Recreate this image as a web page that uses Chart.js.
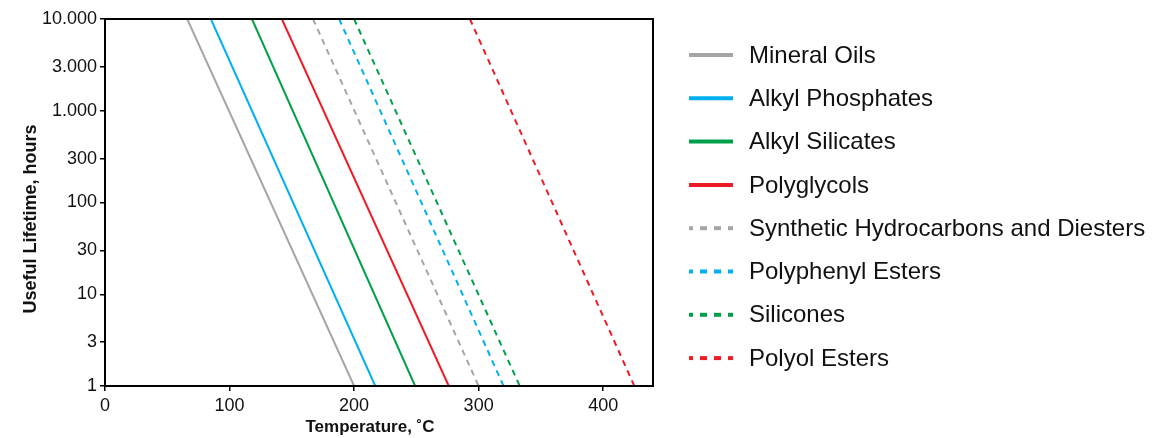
<!DOCTYPE html>
<html>
<head>
<meta charset="utf-8">
<title>Useful Lifetime vs Temperature</title>
<script src="https://cdn.jsdelivr.net/npm/chart.js@4.4.1/dist/chart.umd.min.js"></script>
<style>
    html, body { margin: 0; padding: 0; background: #fff; }
    #wrap { width: 1152px; height: 438px; }
</style>
</head>
<body>
<div id="wrap"><canvas id="lifetimeChart" width="1152" height="438"></canvas></div>
<script>
// Datos: temperatura (°C) a 10.000 h y a 1 h para cada lubricante
const seriesNames = [
    'Mineral Oils',
    'Alkyl Phosphates',
    'Alkyl Silicates',
    'Polyglycols',
    'Synthetic Hydrocarbons and Diesters',
    'Polyphenyl Esters',
    'Silicones',
    'Polyol Esters'
];
const tempAt10000h = [66, 85, 118, 142, 167, 188, 200, 293];
const tempAt1h = [200, 217, 249, 276, 300, 320, 333, 425];
const lifetimeBounds = [10000, 1];

const lifetimeTicks = [1, 3, 10, 30, 100, 300, 1000, 3000, 10000];
const temperatureTicks = [0, 100, 200, 300, 400];

const xTitle = 'Temperature, ˚C';
const yTitle = 'Useful Lifetime, hours';

// Estilos (separados de los datos)
const seriesColors = ['#a5a5a5', '#00b0f0', '#00a04b', '#ed1c24', '#a5a5a5', '#00b0f0', '#00a04b', '#ed1c24'];
const seriesDashed = [false, false, false, false, true, true, true, true];

const FONT = '"Liberation Sans", Arial, Helvetica, sans-serif';

// Formato con punto como separador de miles (10.000)
function formatNumber(num) {
    return String(num).replace(/\B(?=(\d{3})+(?!\d))/g, '.');
}

const datasets = seriesNames.map(function(name, i) {
    return {
        label: name,
        data: [
            { x: tempAt10000h[i], y: lifetimeBounds[0] },
            { x: tempAt1h[i], y: lifetimeBounds[1] }
        ],
        borderColor: seriesColors[i],
        backgroundColor: seriesColors[i],
        borderWidth: 2,
        borderDash: seriesDashed[i] ? [6, 5] : [],
        pointRadius: 0,
        fill: false,
        tension: 0
    };
});

// Marco negro alrededor del área del gráfico
const framePlugin = {
    id: 'frame',
    afterDatasetsDraw(chart) {
        const a = chart.chartArea;
        const ctx = chart.ctx;
        ctx.save();
        ctx.strokeStyle = '#000';
        ctx.lineWidth = 2;
        ctx.setLineDash([]);
        ctx.strokeRect(a.left, a.top, a.right - a.left, a.bottom - a.top);
        ctx.restore();
    }
};

// Títulos de los ejes (posición como en el original, algo descentrados)
const axisTitlesPlugin = {
    id: 'axisTitles',
    afterDraw(chart) {
        const ctx = chart.ctx;
        ctx.save();
        ctx.fillStyle = '#111';
        ctx.textAlign = 'center';
        ctx.textBaseline = 'middle';
        ctx.font = 'bold 17px ' + FONT;
        ctx.fillText(xTitle, 370, 427);
        ctx.font = 'bold 18px ' + FONT;
        ctx.translate(31, 219);
        ctx.rotate(-Math.PI / 2);
        ctx.fillText(yTitle, 0, 0);
        ctx.restore();
    }
};

// Leyenda a la derecha, dibujada a mano
const sideLegendPlugin = {
    id: 'sideLegend',
    afterDraw(chart) {
        const ctx = chart.ctx;
        ctx.save();
        chart.data.datasets.forEach(function(ds, i) {
            const y = 55 + i * 43.3;
            ctx.beginPath();
            ctx.strokeStyle = ds.borderColor;
            ctx.lineWidth = 4;
            ctx.lineCap = 'butt';
            ctx.setLineDash(seriesDashed[i] ? [7, 7] : []);
            ctx.lineDashOffset = 3;
            ctx.moveTo(689, y);
            ctx.lineTo(733, y);
            ctx.stroke();
            ctx.setLineDash([]);
            ctx.fillStyle = '#111';
            ctx.font = '24px ' + FONT;
            ctx.textBaseline = 'middle';
            ctx.textAlign = 'left';
            ctx.fillText(ds.label, 749, y + 1);
        });
        ctx.restore();
    }
};

const ctx = document.getElementById('lifetimeChart').getContext('2d');
const lifetimeChart = new Chart(ctx, {
    type: 'line',
    data: { datasets: datasets },
    options: {
        responsive: false,
        animation: false,
        devicePixelRatio: 1,
        layout: { padding: { left: 0, right: 499, top: 19, bottom: 0 } },
        plugins: {
            legend: { display: false },
            tooltip: { enabled: false }
        },
        scales: {
            x: {
                type: 'linear',
                min: 0,
                max: 440,
                afterBuildTicks: function(scale) {
                    scale.ticks = temperatureTicks.map(v => ({ value: v }));
                },
                afterFit: function(scale) { scale.height = 52; },
                grid: { display: true, drawOnChartArea: false, drawTicks: true, tickLength: 5, color: '#000', lineWidth: 1.5 },
                border: { display: true, color: '#000', width: 2 },
                ticks: { color: '#111', padding: 4, font: { family: FONT, size: 18 }, maxRotation: 0 },
                title: { display: false }
            },
            y: {
                type: 'logarithmic',
                min: 1,
                max: 10000,
                afterBuildTicks: function(scale) {
                    scale.ticks = lifetimeTicks.map(v => ({ value: v }));
                },
                afterFit: function(scale) { scale.width = 105; },
                grid: { display: true, drawOnChartArea: false, drawTicks: true, tickLength: 5, color: '#000', lineWidth: 1.5 },
                border: { display: true, color: '#000', width: 2 },
                ticks: {
                    color: '#111',
                    padding: 3,
                    font: { family: FONT, size: 18 },
                    callback: function(value) { return formatNumber(value); }
                },
                title: { display: false }
            }
        }
    },
    plugins: [framePlugin, axisTitlesPlugin, sideLegendPlugin]
});
</script>
</body>
</html>
